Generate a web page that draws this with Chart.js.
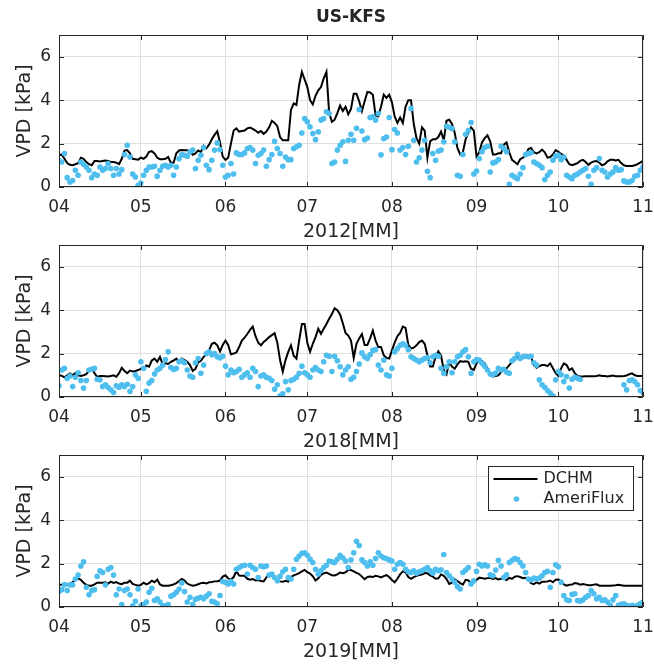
<!DOCTYPE html>
<html>
<head>
<meta charset="utf-8">
<title>US-KFS VPD</title>
<script src="https://cdn.jsdelivr.net/npm/chart.js@4.4.1/dist/chart.umd.min.js"></script>
<style>
  body { margin: 0; background: #fff; }
  #wrap { position: relative; width: 654px; height: 665px; background: #fff; }
  #wrap canvas { position: absolute; left: 0; }
</style>
</head>
<body>
<div id="wrap">
  <canvas id="p2012" width="654" height="245" style="top:0px"></canvas>
  <canvas id="p2018" width="654" height="245" style="top:210px"></canvas>
  <canvas id="p2019" width="654" height="245" style="top:420px"></canvas>
</div>
<script>
// days counted from 1 April; month starts used as x ticks
const monthTicks = [0, 30, 61, 91, 122, 153, 183, 214];
const monthLabels = ['04', '05', '06', '07', '08', '09', '10', '11'];
const vpdTicks = [0, 2, 4, 6];
const seriesNames = ['DCHM', 'AmeriFlux'];

// daily VPD [kPa], 1 Apr .. 1 Nov
const dchm2012 = [
  1.46, 1.5, 1.3, 1.1, 1.02, 1.0, 1.05, 1.1, 1.35, 1.3,
  1.15, 1.05, 1.0, 1.2, 1.2, 1.18, 1.2, 1.22, 1.2, 1.15,
  1.15, 1.12, 1.05, 1.3, 1.68, 1.7, 1.55, 1.3, 1.28, 1.26,
  1.35, 1.3, 1.4, 1.62, 1.65, 1.55, 1.35, 1.28, 1.28, 1.3,
  1.38, 1.12, 1.12, 1.55, 1.68, 1.7, 1.69, 1.69, 1.62, 1.48,
  1.55, 1.68, 1.62, 1.9, 1.78, 1.95, 2.2, 2.4, 2.57, 2.05,
  1.4, 1.25, 1.35, 2.0, 2.6, 2.7, 2.55, 2.58, 2.6, 2.7,
  2.74, 2.68, 2.6, 2.5, 2.58, 2.45, 2.55, 2.75, 3.05, 2.95,
  2.8, 2.3, 2.15, 2.15, 2.15, 3.55, 3.85, 3.78, 4.7, 5.3,
  4.95, 4.6, 4.0, 3.8, 4.2, 4.45, 4.6, 5.0, 5.3, 3.4,
  3.0, 3.1, 3.4, 3.75, 3.5, 3.7, 3.35, 3.6, 4.3, 4.3,
  3.95, 3.5, 3.95, 4.38, 4.35, 4.25, 3.3, 3.25, 3.7, 4.25,
  4.1, 4.25, 3.9, 3.25, 2.95, 3.2, 2.95, 3.7, 4.0, 4.0,
  2.9, 2.25, 2.0, 2.75, 2.6, 1.35, 2.1, 2.2, 2.2, 2.3,
  2.55, 2.15, 3.05, 3.1, 2.9, 2.5, 1.8, 1.5, 1.6, 2.2,
  2.5, 2.75, 2.6, 1.4, 1.6, 2.05, 2.25, 2.38, 2.1, 1.5,
  1.5, 1.55, 1.55, 1.95, 2.05, 1.6, 1.25, 1.15, 1.05, 1.28,
  1.35, 1.45, 1.75, 1.8, 1.6, 1.55, 1.6, 1.72, 1.6, 1.35,
  1.38, 1.5, 1.7, 1.62, 1.52, 1.45, 1.25, 1.05, 1.0, 1.05,
  1.1, 1.2, 1.25, 1.15, 1.02, 1.12, 1.18, 1.2, 1.12, 1.0,
  1.05, 1.18, 1.25, 1.25, 1.22, 1.25, 1.1, 1.0, 0.97, 0.97,
  0.97, 1.0, 1.05, 1.12, 1.2
];
const ameri2012 = [
  1.23, 1.15, 1.54, 0.43, 0.23, 0.3, 0.77, 0.54, 1.15, 1.05,
  0.92, 0.77, 0.43, 0.6, 0.54, 0.92, 0.77, 0.85, 1.08, 0.85,
  0.54, 0.85, 0.6, 0.8, 1.5, 1.92, 1.38, 0.6, 0.46, 0.08,
  0.18, 0.54, 0.77, 0.92, 0.92, 0.95, 0.5, 0.77, 0.95, 1.0,
  0.92, 1.0, 0.54, 0.92, 1.3, 1.49, 1.46, 1.42, 1.62, 1.7,
  0.85, 1.23, 1.46, 1.82, 1.0, 0.8, 1.23, 1.7, 2.03, 1.72,
  1.0, 0.46, 0.54, 1.08, 0.6, 1.57, 1.5, 1.5, 1.57, 1.77,
  1.82, 1.7, 1.08, 1.46, 1.54, 1.7, 0.95, 1.26, 1.5, 2.1,
  1.77, 1.54, 0.95, 1.38, 1.26, 1.26, 1.77, 1.85, 1.92, 2.49,
  3.15, 3.0, 2.77, 2.46, 2.18, 2.54, 3.08, 3.15, 3.46, 3.38,
  1.08, 1.15, 1.7, 1.92, 2.08, 1.18, 2.15, 2.43, 2.15, 2.7,
  3.57, 2.58, 2.18, 2.26, 3.2, 3.23, 3.08, 3.38, 1.48, 2.23,
  2.3, 3.2, 1.72, 2.65, 2.49, 1.7, 1.82, 1.5, 1.88, 3.62,
  2.15, 1.15, 1.35, 1.7, 2.15, 0.72, 0.43, 1.54, 1.23, 1.66,
  1.7, 2.08, 2.8, 2.75, 2.69, 2.08, 0.54, 0.49, 1.5, 2.43,
  2.6, 2.97, 0.6, 0.74, 1.31, 1.62, 1.82, 1.88, 0.69, 1.11,
  1.15, 1.26, 1.88, 1.77, 1.62, 0.12, 0.54, 0.46, 0.38, 0.6,
  0.89, 1.5, 1.54, 1.58, 1.15, 1.08, 1.0, 0.89, 0.34, 0.54,
  0.69, 1.23, 1.42, 1.46, 1.26, 1.38, 0.54, 0.46, 0.38, 0.54,
  0.6, 0.69, 0.77, 0.85, 0.49, 0.12, 0.77, 0.89, 1.31, 0.77,
  0.69, 0.46, 0.6, 0.69, 0.89, 0.77, 0.8, 0.28, 0.23, 0.23,
  0.3, 0.49, 0.54, 0.77, 0.92
];

const dchm2018 = [
  1.02, 0.97, 0.91, 1.0, 1.08, 1.0, 1.1, 1.0, 0.97, 1.0,
  1.05, 1.22, 1.32, 1.1, 0.92, 0.97, 0.97, 0.96, 0.94, 0.97,
  1.0, 0.93, 1.1, 1.35, 1.2, 1.1, 1.22, 1.18, 1.2, 1.24,
  1.3, 1.27, 1.45, 1.4, 1.68, 1.77, 1.62, 1.85, 1.5, 1.55,
  1.52, 1.62, 1.68, 1.77, 1.62, 1.77, 1.7, 1.62, 1.47, 1.2,
  1.3, 1.6, 1.67, 1.85, 1.95, 2.15, 2.45, 2.5, 2.38, 2.1,
  2.4, 2.6, 2.4, 1.97, 2.0, 2.05, 2.3, 2.6, 2.73, 2.9,
  3.09, 3.24, 2.8, 2.5, 2.38, 2.53, 2.64, 2.76, 2.85, 2.94,
  2.5, 1.7, 1.17, 1.7, 2.08, 2.38, 1.9, 1.77, 2.6, 3.36,
  3.36, 2.5, 2.08, 2.45, 2.76, 3.14, 2.91, 3.14, 3.36, 3.6,
  3.82, 4.09, 4.0, 3.8, 3.4, 2.95, 2.83, 2.6, 1.8, 2.45,
  2.7, 2.9, 2.4, 2.4, 2.7, 3.06, 2.6, 2.3, 2.3, 1.92,
  1.8, 1.77, 2.15, 2.5, 2.8, 2.95, 3.24, 3.18, 2.4, 2.23,
  2.27, 2.38, 2.53, 2.6, 2.45, 1.92, 1.4, 1.4, 1.85, 2.1,
  1.9, 1.24, 1.05, 1.6, 1.4, 1.3, 1.5, 1.65, 1.62, 1.65,
  1.62, 1.3, 1.25, 1.55, 1.7, 1.65, 1.55, 1.3, 1.0, 0.95,
  0.97, 1.0, 1.15, 1.27, 1.32, 1.47, 1.62, 1.7, 1.85, 1.85,
  1.82, 1.88, 1.85, 1.85, 1.47, 1.35, 1.42, 1.47, 1.47, 1.42,
  1.55, 1.32, 1.1, 0.97, 1.32, 1.55, 1.47, 1.24, 1.32, 1.1,
  0.97, 0.94, 0.94, 0.95, 0.95, 0.95, 0.95, 0.97, 1.0, 0.97,
  0.97, 0.95, 0.97, 0.99, 0.96, 0.95, 0.96, 0.97, 0.99, 1.05,
  1.09, 1.0, 0.97, 0.97, 0.97
];
const ameri2018 = [
  0.52, 1.24, 1.32, 0.86, 0.97, 0.48, 0.91, 1.12, 0.76, 0.41,
  0.76, 1.24, 1.28, 1.32, 0.82, 0.79, 0.48, 0.56, 0.44, 0.33,
  0.21, 0.52, 0.45, 0.56, 0.48, 0.59, 0.26, 0.48, 1.02, 0.86,
  1.62, 1.32, 0.26, 0.64, 0.76, 1.06, 1.24, 1.32, 1.47, 1.73,
  2.08, 1.36, 1.27, 1.32, 1.62, 1.67, 1.58, 1.24, 0.97, 0.91,
  1.58, 1.77, 1.09, 1.47, 2.0, 2.08, 1.95, 2.0, 1.85, 1.8,
  1.88, 1.42, 1.02, 1.24, 1.12, 1.17, 1.27, 0.91, 1.02, 1.12,
  0.91, 1.32, 1.17, 0.48, 0.97, 1.02, 0.91, 0.86, 0.76, 0.36,
  0.56, 0.06, 0.15, 0.71, 0.33, 0.76, 0.82, 0.91, 1.09, 1.42,
  1.12, 1.02, 0.91, 1.24, 1.36, 1.24, 1.17, 1.62, 1.92, 1.88,
  1.17, 1.88, 1.67, 1.39, 1.02, 1.24, 1.39, 0.82, 0.91, 1.17,
  1.52, 2.03, 1.85, 1.77, 1.95, 2.15, 2.18, 1.47, 1.24, 1.7,
  1.02, 0.97, 1.32, 2.08, 2.23, 2.38, 2.45, 2.38, 2.18, 1.85,
  1.77, 1.7, 1.62, 1.7, 1.77, 1.82, 1.58, 1.85, 1.92, 1.88,
  1.32, 1.09, 1.39, 1.62, 1.12, 1.62, 1.85, 1.92, 2.08, 2.18,
  1.85, 1.09, 1.62, 1.73, 1.7, 1.55, 1.42, 1.24, 1.06, 1.02,
  1.1, 1.32, 1.24, 1.27, 1.15, 1.09, 1.67, 1.77, 1.97, 1.77,
  1.85, 1.88, 1.85, 1.88, 1.58, 1.47, 0.79, 0.56, 0.45, 0.3,
  0.18, 0.06, 0.79, 1.17, 1.02, 0.71, 0.94, 0.41, 0.82, 0.91,
  0.86, 0.82, null, null, null, null, null, null, null, null,
  null, null, null, null, null, null, null, 0.56, 0.33, 0.76,
  0.79, 0.71, 0.56, 0.3, 0.21
];

const dchm2019 = [
  1.02, 1.02, 1.06, 1.02, 1.08, 1.15, 1.25, 1.32, 1.25, 1.12,
  1.02, 0.98, 0.98, 1.04, 1.12, 1.12, 1.12, 1.14, 1.08, 1.17,
  1.11, 1.15, 1.08, 1.05, 1.12, 1.12, 1.21, 1.06, 1.02, 0.98,
  1.02, 1.12, 1.04, 1.1, 1.21, 1.14, 1.26, 1.04, 0.98, 0.98,
  0.98, 1.0, 1.04, 1.1, 1.2, 1.29, 1.22, 1.08, 1.02, 0.98,
  1.0, 1.05, 1.1, 1.12, 1.08, 1.14, 1.15, 1.18, 1.19, 1.22,
  1.4, 1.46, 1.32, 1.26, 1.38, 1.65, 1.45, 1.44, 1.44, 1.3,
  1.26, 1.29, 1.22, 1.24, 1.2, 1.18, 1.36, 1.52, 1.46, 1.3,
  1.22, 1.18, 1.16, 1.21, 1.17, 1.38, 1.46, 1.5, 1.56, 1.64,
  1.71, 1.6, 1.54, 1.42, 1.22, 1.32, 1.48, 1.55, 1.59, 1.53,
  1.46, 1.45, 1.5, 1.59, 1.56, 1.6, 1.7, 1.7, 1.64, 1.57,
  1.52, 1.4, 1.28, 1.38, 1.4, 1.38, 1.44, 1.41, 1.36, 1.42,
  1.47, 1.38, 1.24, 1.14, 1.3, 1.5, 1.64, 1.6, 1.38, 1.3,
  1.38, 1.44, 1.47, 1.5, 1.56, 1.55, 1.46, 1.4, 1.3, 1.32,
  1.5, 1.44, 1.29, 1.06, 1.12, 1.28, 1.2, 1.1, 1.03, 1.25,
  1.22, 1.1, 1.12, 1.24, 1.35, 1.33, 1.3, 1.33, 1.34, 1.29,
  1.33, 1.27, 1.3, 1.3, 1.24, 1.34, 1.3, 1.4, 1.42, 1.38,
  1.33, 1.35, 1.26, 1.1, 1.05, 1.14, 1.08, 1.16, 1.16, 1.18,
  1.22, 1.14, 1.26, 1.27, 1.18, 1.04, 0.98, 1.02, 1.03, 1.1,
  1.08, 1.03, 1.06, 1.03, 1.0, 1.0, 1.03, 1.05, 0.98, 0.98,
  0.98, 0.98, 0.98, 0.99, 1.0, 1.02, 1.0, 0.98, 0.98, 0.98,
  0.98, 0.98, 0.98, 0.98, 0.98
];
const ameri2019 = [
  0.71, 0.8, 1.03, 0.76, 1.02, 1.02, 1.29, 1.47, 1.89, 2.08,
  0.91, 0.56, 0.76, 0.8, 1.41, 1.67, 1.59, 1.02, 1.74, 1.82,
  1.47, 0.56, 0.83, 0.11, 0.76, 0.83, 0.56, 0.05, 0.26, 0.83,
  0.05, 0.11, 0.23, 0.68, 0.86, 0.3, 0.38, 0.23, 0.05, 0.05,
  0.11, 0.5, 0.56, 0.68, 0.83, 1.11, 0.71, 0.23, 0.45, 0.11,
  0.35, 0.41, 0.45, 0.38, 0.5, 0.61, 0.26, 0.23, 0.15, 0.53,
  1.17, 1.14, 1.06, 1.17, 1.06, 1.74, 1.82, 1.89, 1.92, 1.52,
  1.92, 1.82, 1.74, 1.36, 1.89, 1.85, 1.89, 1.47, 1.52, 1.36,
  1.21, 1.41, 1.62, 1.74, 1.36, 1.29, 1.74, 2.2, 2.35, 2.47,
  2.5, 2.38, 2.2, 2.05, 1.74, 1.52, 1.67, 1.82, 1.92, 2.12,
  2.08, 2.05, 2.2, 2.38, 2.27, 2.12, 1.82, 2.17, 2.5, 3.03,
  2.83, 2.17, 2.05, 1.89, 2.08, 1.92, 2.23, 2.5, 2.35, 2.27,
  2.23, 2.17, 2.12, 1.74, 1.97, 2.05, 1.97, 1.74, 1.62, 1.59,
  1.67, 1.56, 1.62, 1.67, 1.74, 1.82, 1.67, 1.56, 1.74, 1.67,
  1.71, 2.42, 1.59, 1.44, 1.29, 1.14, 0.94, 0.83, 1.59, 1.7,
  1.82, 1.06, 1.21, 1.64, 1.97, 1.89, 1.94, 1.89, 1.48, 1.44,
  1.7, 2.15, 1.89, 1.36, 1.48, 2.05, 2.15, 2.23, 2.2, 2.05,
  1.89, 1.59, 1.29, 1.24, 1.33, 1.29, 1.33, 1.44, 1.59, 1.64,
  0.91, 1.59, 1.94, 1.85, 1.14, 0.53, 0.33, 0.3, 0.58, 0.61,
  0.3, 0.27, 0.33, 0.45, 0.53, 0.76, 0.61, 0.38, 0.45, 0.3,
  0.33, 0.23, 0.08, 0.33, 0.53, 0.08, 0.12, 0.15, 0.08, 0.03,
  0.08, 0.0, 0.08, 0.15, 0.23
];

const INK = '#262626';
const GRID = '#dfdfdf';
const DOT = '#4dbeee';
Chart.defaults.font.family = '"DejaVu Sans", sans-serif';
Chart.defaults.color = INK;

// box round the plot area with short inward ticks, like the usual matlab axes
const axesBox = {
  id: 'axesBox',
  afterDatasetsDraw(chart) {
    const { ctx, chartArea: a, scales: { x, y } } = chart;
    ctx.save();
    ctx.strokeStyle = INK;
    ctx.lineWidth = 1;
    ctx.beginPath();
    ctx.rect(a.left + 0.5, a.top + 0.5, a.right - a.left - 1, a.bottom - a.top - 1);
    monthTicks.forEach(d => {
      const px = Math.round(x.getPixelForValue(d)) + 0.5;
      ctx.moveTo(px, a.bottom); ctx.lineTo(px, a.bottom - 5);
      ctx.moveTo(px, a.top); ctx.lineTo(px, a.top + 5);
    });
    vpdTicks.forEach(v => {
      const py = Math.round(y.getPixelForValue(v)) + 0.5;
      ctx.moveTo(a.left, py); ctx.lineTo(a.left + 5, py);
      ctx.moveTo(a.right, py); ctx.lineTo(a.right - 5, py);
    });
    ctx.stroke();
    ctx.restore();
  }
};

// boxed legend in the top right corner of the last panel
const cornerLegend = {
  id: 'cornerLegend',
  afterDraw(chart) {
    const { ctx, chartArea: a } = chart;
    const w = 145, h = 44;
    const left = Math.round(a.right - 10 - w) + 0.5;
    const top = Math.round(a.top + 11) + 0.5;
    ctx.save();
    ctx.fillStyle = '#fff';
    ctx.fillRect(left, top, w, h);
    ctx.strokeStyle = INK;
    ctx.lineWidth = 1;
    ctx.strokeRect(left, top, w, h);
    // DCHM line sample
    ctx.strokeStyle = '#000';
    ctx.lineWidth = 2;
    ctx.beginPath();
    ctx.moveTo(left + 5, top + 12.5);
    ctx.lineTo(left + 49, top + 12.5);
    ctx.stroke();
    // AmeriFlux marker sample
    ctx.fillStyle = DOT;
    ctx.beginPath();
    ctx.arc(left + 28, top + 32.5, 2.8, 0, Math.PI * 2);
    ctx.fill();
    ctx.fillStyle = INK;
    ctx.font = '16px "DejaVu Sans", sans-serif';
    ctx.textBaseline = 'middle';
    ctx.fillText(seriesNames[0], left + 55, top + 12.5);
    ctx.fillText(seriesNames[1], left + 55, top + 32.5);
    ctx.restore();
  }
};

function drawPanel(id, year, dchm, ameri, withTitle, withLegend) {
  const toPoints = vals => vals.map((v, i) => ({ x: i, y: v }));
  return new Chart(document.getElementById(id), {
    type: 'line',
    data: {
      datasets: [
        {
          label: seriesNames[1],
          type: 'scatter',
          data: toPoints(ameri),
          showLine: false,
          pointRadius: 2.8,
          pointHoverRadius: 2.8,
          pointBorderWidth: 0,
          pointBackgroundColor: DOT,
          order: 0
        },
        {
          label: seriesNames[0],
          data: toPoints(dchm),
          borderColor: '#000',
          borderWidth: 2,
          pointRadius: 0,
          tension: 0,
          order: 1
        }
      ]
    },
    options: {
      responsive: false,
      animation: false,
      devicePixelRatio: 1,
      layout: { padding: { top: withTitle ? 0 : 35, right: 0, left: 0, bottom: 0 } },
      plugins: {
        legend: { display: false },
        tooltip: { enabled: false },
        title: {
          display: withTitle,
          text: 'US-KFS',
          fullSize: false,
          color: INK,
          font: { size: 17, weight: 'bold' },
          padding: { top: 7, bottom: 7.6 }
        }
      },
      scales: {
        x: {
          type: 'linear',
          min: 0,
          max: 214,
          afterBuildTicks: s => { s.ticks = monthTicks.map(v => ({ value: v })); },
          // fixed height, and only half of the "11" label hangs past the right edge
          afterFit: s => { s.height = 58; s.paddingLeft = 0; s.paddingRight = 11; },
          ticks: {
            autoSkip: false,
            maxRotation: 0,
            padding: 10,
            font: { size: 17 },
            callback: (v, i) => monthLabels[i]
          },
          grid: { color: GRID, drawTicks: false },
          border: { display: false },
          title: {
            display: true,
            text: year + '[MM]',
            font: { size: 19 },
            padding: { top: 0, bottom: 2 }
          }
        },
        y: {
          min: 0,
          max: 7,
          afterBuildTicks: s => { s.ticks = vpdTicks.map(v => ({ value: v })); },
          afterFit: s => { s.width = 59; },
          ticks: { padding: 8, font: { size: 17 } },
          grid: { color: GRID, drawTicks: false },
          border: { display: false },
          title: {
            display: true,
            text: 'VPD [kPa]',
            font: { size: 19 },
            padding: { top: 14, bottom: 0 }
          }
        }
      }
    },
    plugins: withLegend ? [axesBox, cornerLegend] : [axesBox]
  });
}

drawPanel('p2012', '2012', dchm2012, ameri2012, true, false);
drawPanel('p2018', '2018', dchm2018, ameri2018, false, false);
drawPanel('p2019', '2019', dchm2019, ameri2019, false, true);
</script>
</body>
</html>
